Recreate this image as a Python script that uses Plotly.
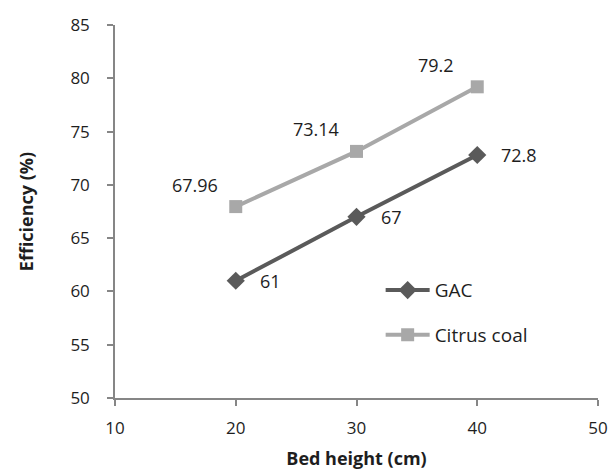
import plotly.graph_objects as go

bed_height = [20, 30, 40]
gac = [61, 67, 72.8]
citrus = [67.96, 73.14, 79.2]
gac_labels = ["61", "67", "72.8"]
citrus_labels = ["67.96", "73.14", "79.2"]

font_family = "Open Sans, DejaVu Sans, sans-serif"
dark = "#5a5a5a"
light = "#a8a8a8"
txt = "#1e1e1e"

fig = go.Figure()
fig.add_trace(go.Scatter(x=bed_height, y=gac, mode="lines+markers", name="GAC",
                         legendgroup="a",
                         line=dict(color=dark, width=4),
                         marker=dict(symbol="diamond", size=14, color=dark)))
fig.add_trace(go.Scatter(x=bed_height, y=citrus, mode="lines+markers", name="Citrus coal",
                         legendgroup="b",
                         line=dict(color=light, width=4),
                         marker=dict(symbol="square", size=13, color=light)))

for xv, yv, t in zip(bed_height, gac, gac_labels):
    fig.add_annotation(x=xv, y=yv, text=t, showarrow=False, xanchor="left",
                       xshift=22, font=dict(size=18, color=txt, family=font_family))
for xv, yv, t in zip(bed_height, citrus, citrus_labels):
    fig.add_annotation(x=xv, y=yv, text=t, showarrow=False, xanchor="center",
                       xshift=-41, yshift=22, font=dict(size=18, color=txt, family=font_family))

axis_common = dict(showline=True, linecolor="#868686", linewidth=1.5, ticks="outside",
                   tickcolor="#868686", ticklen=6, tickwidth=1.5, showgrid=False, zeroline=False,
                   automargin=False,
                   tickfont=dict(size=17, color=txt, family=font_family))

fig.update_layout(
    width=612, height=473,
    margin=dict(l=115, r=14, t=25, b=75),
    plot_bgcolor="white", paper_bgcolor="white",
    xaxis=dict(range=[10, 50], tickvals=[10, 20, 30, 40, 50], ticklabelstandoff=8,
               title=dict(text="<b>Bed height (cm)</b>", font=dict(size=18, color=txt, family=font_family), standoff=14),
               **axis_common),
    yaxis=dict(range=[50, 85], tickvals=[50, 55, 60, 65, 70, 75, 80, 85], ticklabelstandoff=14,
               title=dict(text="<b>Efficiency (%)</b>", font=dict(size=18, color=txt, family=font_family), standoff=32),
               **axis_common),
    legend=dict(x=0.55, y=0.34, xanchor="left", yanchor="top", bgcolor="rgba(0,0,0,0)",
                font=dict(size=19, color=txt, family=font_family), tracegroupgap=17,
                itemwidth=44),
    showlegend=True,
)

fig.write_html("out.html")
